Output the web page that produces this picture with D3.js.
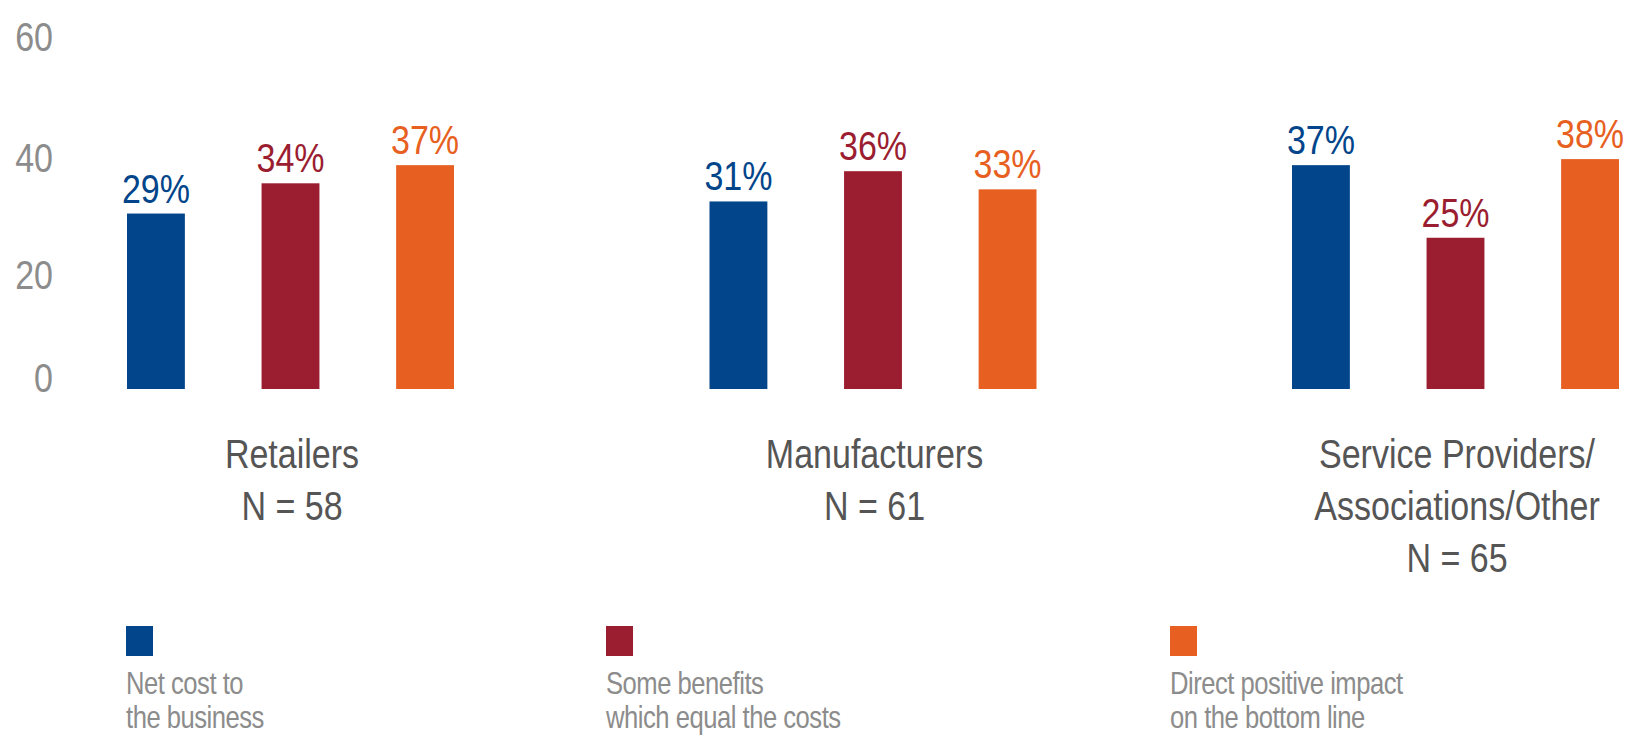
<!DOCTYPE html>
<html>
<head>
<meta charset="utf-8">
<script src="https://cdn.jsdelivr.net/npm/d3@7"></script>
<style>
  body { margin: 0; background: #fff; }
  svg { display: block; font-family: "Liberation Sans", Arial, sans-serif; }
</style>
</head>
<body>
<svg id="chart" width="1625" height="736"></svg>
<script>
// data
var categories = ["Retailers", "Manufacturers", "Service Providers/\nAssociations/Other"];
var sampleSizes = ["N = 58", "N = 61", "N = 65"];
var seriesNames = ["Net cost to\nthe business", "Some benefits\nwhich equal the costs", "Direct positive impact\non the bottom line"];
var netCost = [29, 31, 37];
var someBenefits = [34, 36, 25];
var directImpact = [37, 33, 38];
var yTicks = [0, 20, 40, 60];
var colors = ["#02458a", "#9b1d30", "#e75f21"];

var seriesValues = [netCost, someBenefits, directImpact];
var narrow = "scale(0.83,1)"; // condensed look, no narrow font installed

var svg = d3.select("#chart");

var y = d3.scaleLinear().domain([0, 60]).range([389, 26]);

var x0 = d3.scalePoint()
    .domain(categories)
    .range([292, 1457]);

var x1 = d3.scaleBand()
    .domain(seriesNames)
    .range([-165, 162])
    .paddingInner(0.57)
    .paddingOuter(0);

// y axis labels, no line
var yAxis = d3.axisLeft(y).tickValues(yTicks).tickSize(0).tickPadding(0);
var gy = svg.append("g")
    .attr("transform", "translate(53,0)")
    .call(yAxis);
gy.select(".domain").remove();
gy.selectAll("text")
    .attr("font-size", 41)
    .attr("fill", "#8c8c8c")
    .attr("font-family", null)
    .attr("transform", narrow)
    .attr("dy", function (d) { return d === 0 ? "0.07em" : (d === 20 ? "0.5em" : "0.6em"); });

// bars
var groups = svg.append("g").selectAll("g")
    .data(categories)
    .enter().append("g")
    .attr("transform", function (d) { return "translate(" + x0(d) + ",0)"; });

groups.each(function (cat, ci) {
    var g = d3.select(this);
    seriesNames.forEach(function (s, si) {
        var v = seriesValues[si][ci];
        g.append("rect")
            .attr("x", x1(s))
            .attr("width", x1.bandwidth())
            .attr("y", y(v))
            .attr("height", y(0) - y(v))
            .attr("fill", colors[si]);
        g.append("g")
            .attr("transform", "translate(" + (x1(s) + x1.bandwidth() / 2) + "," + (y(v) - 11) + ") " + narrow)
            .append("text")
            .attr("text-anchor", "middle")
            .attr("font-size", 41)
            .attr("fill", colors[si])
            .text(v + "%");
    });

    var lines = cat.split("\n").concat([sampleSizes[ci]]);
    g.append("g")
        .attr("transform", narrow)
        .append("text")
        .attr("text-anchor", "middle")
        .attr("font-size", 41)
        .attr("fill", "#555")
        .selectAll("tspan")
        .data(lines)
        .enter().append("tspan")
        .attr("x", 0)
        .attr("y", function (d, i) { return 468 + i * 52; })
        .text(function (d) { return d; });
});

// legend
var legendX = [126, 606, 1170];
var legend = svg.append("g").selectAll("g")
    .data(seriesNames)
    .enter().append("g")
    .attr("transform", function (d, i) { return "translate(" + legendX[i] + ",626)"; });

legend.append("rect")
    .attr("width", 27)
    .attr("height", 30)
    .attr("fill", function (d, i) { return colors[i]; });

legend.append("g")
    .attr("transform", "scale(0.8,1)")
    .append("text")
    .attr("font-size", 32)
    .attr("letter-spacing", -0.6)
    .attr("fill", "#8c8c8c")
    .selectAll("tspan")
    .data(function (d) { return d.split("\n"); })
    .enter().append("tspan")
    .attr("x", 0)
    .attr("y", function (d, i) { return 68 + i * 34; })
    .text(function (d) { return d; });
</script>
</body>
</html>
